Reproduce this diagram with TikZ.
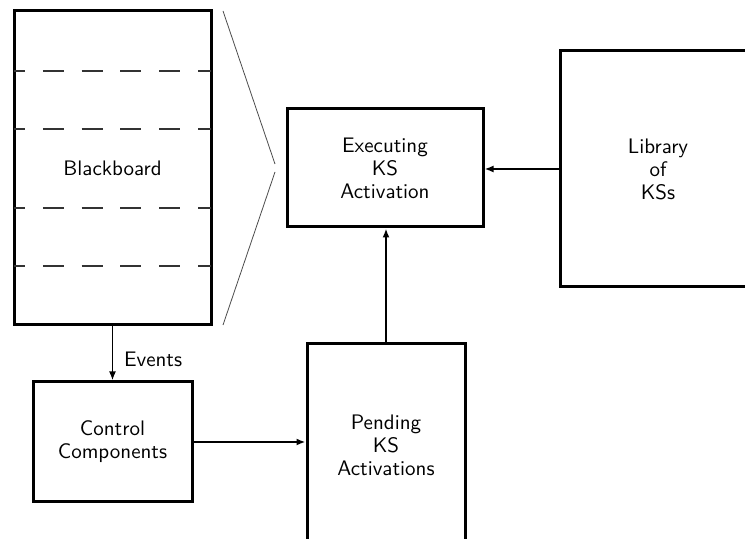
\documentclass[tikz,border=0pt]{standalone}
\usepackage{tikz}
\usetikzlibrary{arrows.meta, positioning}

\begin{document}
\begin{tikzpicture}[x=0.5pt, y=-0.5pt,
        box/.style={draw, line width=1.5pt, align=center, inner sep=0pt,
            font=\sffamily\fontsize{10.5}{11.5}\selectfont},
        arr/.style={-{Latex[length=4.5pt, width=3.5pt]}, line width=0.9pt},
        thickarr/.style={arr, line width=1.3pt},
        split/.style={line width=0.6pt, black!80, dash pattern=on 10.5pt off 8.9pt, dash phase=5pt},
        zoomline/.style={line width=0.4pt, black!70}]
        \useasboundingbox (0, 0) rectangle (745, 539);
        \clip (0, 0) rectangle (745, 539);

        \node[box, minimum width=98.5pt, minimum height=157pt] (bb) at (112.5, 168) {Blackboard};
        \node[box, minimum width=98pt, minimum height=59pt] (exec) at (385, 168) {Executing\\KS\\Activation};
        \node[box, minimum width=98pt, minimum height=118pt] (lib) at (658, 169) {Library\\of\\KSs};
        \node[box, minimum width=79.5pt, minimum height=60pt] (ctrl) at (112.5, 442) {Control\\Components};
        \node[box, minimum width=79pt, minimum height=101pt] (pend) at (386, 445) {Pending\\KS\\Activations};

        % levels of the blackboard
        \foreach \y in {71, 129, 208, 266}
            \draw[split] (14, \y) -- (211, \y);

        % blackboard opened out
        \draw[zoomline] (223, 11) -- (275, 164)
            (275, 172) -- (223, 325);

        \draw[arr] (bb.south) -- node[right, pos=0.6, font=\sffamily\fontsize{10.5}{11}\selectfont, xshift=2pt] {Events} (ctrl.north);
        \draw[thickarr] (ctrl.east) -- (ctrl.east -| pend.west);
        \draw[arr] (pend.north) -- (pend.north |- exec.south);
        \draw[thickarr] (lib.west) -- (lib.west -| exec.east);
    \end{tikzpicture}
\end{document}
